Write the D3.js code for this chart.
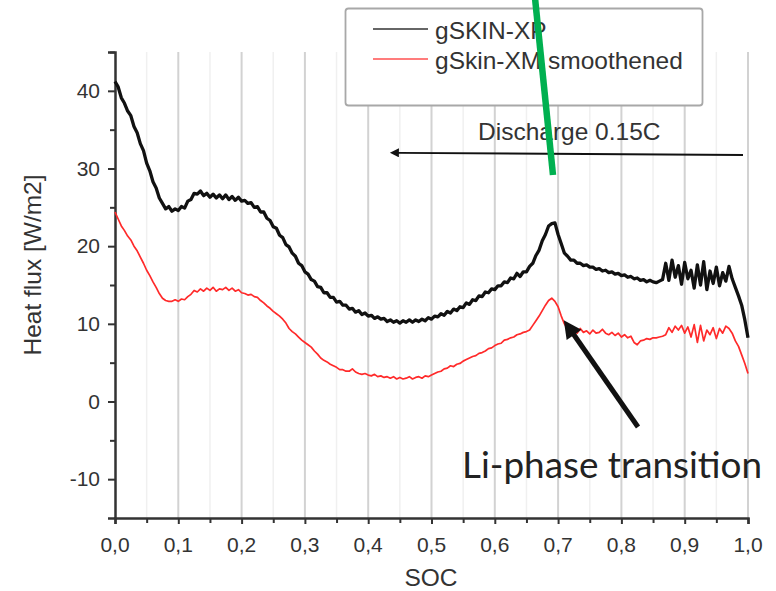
<!DOCTYPE html>
<html><head><meta charset="utf-8">
<script src="https://cdn.jsdelivr.net/npm/d3@7"></script>
<style>html,body{margin:0;padding:0;background:#fff;}svg{display:block;}</style>
</head><body>
<svg id="chart" width="776" height="591"></svg>
<script>
// ---- data ----
const seriesNames = ["gSKIN-XP", "gSkin-XM smoothened"];
const xTicks = [0,0.1,0.2,0.3,0.4,0.5,0.6,0.7,0.8,0.9,1.0];
const xTickLabels = ["0,0","0,1","0,2","0,3","0,4","0,5","0,6","0,7","0,8","0,9","1,0"];
const yTicks = [-10,0,10,20,30,40];
const yTickLabels = ["-10","0","10","20","30","40"];
const socStep = 0.005;
const gskinXP = [41.2,40.5,39.1,38.4,37.4,36.8,35.4,34.6,33.2,32.3,
30.7,29.7,28.3,27.5,26.2,25.5,24.8,25.1,24.5,24.8,
24.6,25.1,24.9,25.8,26.0,26.8,26.7,27.1,26.5,26.8,
26.3,26.7,26.2,26.6,26.1,26.6,26.0,26.4,25.9,26.3,
25.8,25.9,25.5,25.6,25.0,25.1,24.4,24.4,23.6,23.3,
22.5,22.3,21.4,21.1,20.2,19.9,19.1,18.7,17.8,17.5,
16.7,16.4,15.7,15.5,14.8,14.7,14.0,14.0,13.4,13.4,
12.8,12.9,12.4,12.4,11.9,12.0,11.5,11.7,11.2,11.4,
11.0,11.1,10.7,10.9,10.6,10.7,10.3,10.5,10.2,10.4,
10.1,10.4,10.2,10.5,10.2,10.5,10.3,10.6,10.4,10.8,
10.6,11.0,10.9,11.3,11.1,11.6,11.4,11.9,11.7,12.2,
12.1,12.7,12.5,13.1,13.0,13.6,13.5,14.1,14.0,14.5,
14.4,14.9,14.9,15.4,15.3,15.9,15.8,16.5,16.1,16.7,
16.7,17.4,17.8,18.8,19.5,20.7,21.5,22.6,22.9,23.0,
21.5,20.3,19.1,18.7,18.2,18.2,17.8,17.8,17.5,17.6,
17.3,17.3,17.0,17.1,16.8,16.9,16.6,16.7,16.4,16.5,
16.2,16.3,16.0,16.1,15.8,15.9,15.6,15.7,15.4,15.6,
15.4,15.3,15.5,15.7,17.8,15.6,18.2,16.0,17.5,15.1,
17.9,15.8,16.9,14.6,17.6,15.0,18.0,14.4,16.8,15.2,
17.3,14.9,16.6,15.5,17.4,15.8,14.7,13.6,12.4,10.5,
8.2];
const gskinXM = [24.4,23.5,22.6,22.0,21.3,20.8,20.0,19.4,18.6,17.8,
16.9,16.2,15.4,14.7,13.9,13.3,13.0,12.9,12.9,13.1,
12.9,13.2,13.1,13.5,13.8,14.3,14.1,14.5,14.2,14.6,
14.3,14.7,14.2,14.5,14.4,14.7,14.3,14.6,14.2,14.4,
14.0,13.9,13.7,13.8,13.5,13.4,13.0,12.7,12.3,12.0,
11.6,11.3,11.0,10.6,10.1,9.4,9.0,8.7,8.3,7.9,
7.6,7.3,7.0,6.5,6.1,5.6,5.3,5.1,4.8,4.6,
4.4,4.1,4.1,3.9,3.9,4.2,3.8,3.6,3.5,3.6,
3.4,3.3,3.5,3.2,3.3,3.1,3.2,3.0,3.2,2.9,
3.1,2.9,3.0,3.2,2.9,3.1,3.2,3.0,3.3,3.2,
3.4,3.6,3.8,3.9,4.2,4.3,4.6,4.5,4.8,4.9,
5.2,5.4,5.6,5.8,5.9,6.2,6.3,6.5,6.8,6.9,
7.2,7.4,7.5,7.9,8.0,8.2,8.3,8.6,8.7,8.9,
9.0,9.2,9.8,10.4,11.0,11.7,12.4,13.0,13.3,12.9,
12.2,11.0,10.0,9.3,8.7,9.2,8.8,9.4,8.9,9.1,
8.7,9.2,8.8,8.9,9.3,8.8,8.6,8.9,8.5,8.8,
8.3,8.6,8.2,8.4,7.6,7.3,7.8,7.9,8.1,8.0,
8.2,8.2,8.3,8.4,8.6,9.5,8.9,9.7,9.2,9.8,
8.8,9.6,8.3,9.9,7.6,9.8,7.8,9.2,8.6,9.5,
8.1,9.4,8.8,9.7,9.4,8.8,7.8,7.1,6.0,4.9,
3.6];

// ---- chart ----
const svg = d3.select("#chart");
const x = d3.scaleLinear().domain([0, 1]).range([115, 748]);
const y = d3.scaleLinear().domain([-15, 45]).range([518, 52]);
const txt = "#333";
const font = "Liberation Sans, Arial, sans-serif";

// grid
const gMinor = d3.range(1, 20, 2).map(i => i * 0.05);
svg.append("g").selectAll("line").data(gMinor).join("line")
  .attr("x1", d => x(d)).attr("x2", d => x(d)).attr("y1", y(45)).attr("y2", y(-15))
  .attr("stroke", "#f0f0f0").attr("stroke-width", 1.5);
svg.append("g").selectAll("line").data(xTicks.slice(1)).join("line")
  .attr("x1", d => x(d)).attr("x2", d => x(d)).attr("y1", y(45)).attr("y2", y(-15))
  .attr("stroke", "#d2d2d2").attr("stroke-width", 2);

// axes
const xAxis = d3.axisBottom(x).tickValues(xTicks).tickSize(6).tickFormat(() => "");
const xAxisMinor = d3.axisBottom(x).tickValues(gMinor).tickSize(5).tickFormat(() => "");
const yAxis = d3.axisLeft(y).tickValues(yTicks).tickSize(7).tickFormat(() => "");
const yAxisMinor = d3.axisLeft(y).tickValues([-5,5,15,25,35,45]).tickSize(5).tickFormat(() => "");
function styleAxis(g){ g.select(".domain").attr("stroke","#333").attr("stroke-width",2.5);
  g.selectAll(".tick line").attr("stroke","#333").attr("stroke-width",2); }
svg.append("g").attr("transform","translate(0,518)").call(xAxisMinor).call(styleAxis).select(".domain").remove();
svg.append("g").attr("transform","translate(0,518)").call(xAxis).call(styleAxis);
svg.append("g").attr("transform","translate(115,0)").call(yAxisMinor).call(styleAxis).select(".domain").remove();
svg.append("g").attr("transform","translate(115,0)").call(yAxis).call(styleAxis);

// tick labels
svg.append("g").selectAll("text").data(xTicks).join("text")
  .attr("x", d => x(d)).attr("y", 552).attr("text-anchor","middle")
  .attr("font-family", font).attr("font-size", 21).attr("fill", txt)
  .text((d,i) => xTickLabels[i]);
svg.append("g").selectAll("text").data(yTicks).join("text")
  .attr("x", 100).attr("y", d => y(d) + 7).attr("text-anchor","end")
  .attr("font-family", font).attr("font-size", 21).attr("fill", txt)
  .text((d,i) => yTickLabels[i]);

// axis titles
svg.append("text").attr("x", 431).attr("y", 586).attr("text-anchor","middle")
  .attr("font-family", font).attr("font-size", 24.5).attr("fill", txt).text("SOC");
svg.append("text").attr("transform","translate(41,265) rotate(-90)").attr("text-anchor","middle")
  .attr("font-family", font).attr("font-size", 24.5).attr("fill", txt).text("Heat flux [W/m2]");

// series
const soc = gskinXP.map((d, i) => i * socStep);
const line = d3.line().x(d => x(d[0])).y(d => y(d[1]));
svg.append("path").datum(gskinXM.map((v, i) => [soc[i], v]))
  .attr("d", line).attr("fill","none").attr("stroke","#ff2a2a").attr("stroke-width",1.7).attr("stroke-linejoin","round");
svg.append("path").datum(gskinXP.map((v, i) => [soc[i], v]))
  .attr("d", line).attr("fill","none").attr("stroke","#111").attr("stroke-width",3.3).attr("stroke-linejoin","round");

// legend
const lg = svg.append("g");
lg.append("rect").attr("x",345.5).attr("y",8.5).attr("width",357).attr("height",97).attr("rx",3)
  .attr("fill","#fff").attr("stroke","#a8a8a8").attr("stroke-width",1.8);
const legColors = ["#333", "#ff5050"];
seriesNames.forEach((n, i) => {
  const ly = 29 + i * 30;
  lg.append("line").attr("x1",373).attr("x2",428).attr("y1",ly).attr("y2",ly)
    .attr("stroke",legColors[i]).attr("stroke-width",1.5);
  lg.append("text").attr("x",435).attr("y",ly + 10).attr("font-family",font)
    .attr("font-size",24.5).attr("fill",txt).text(n);
});

// annotations
const defs = svg.append("defs");
defs.append("marker").attr("id","hd").attr("viewBox","0 0 10 10").attr("refX",1).attr("refY",5)
  .attr("markerWidth",7).attr("markerHeight",5).attr("orient","auto-start-reverse").attr("markerUnits","strokeWidth")
  .append("path").attr("d","M0,0 L10,5 L0,10 z").attr("fill","#111");
svg.append("line").attr("x1",743).attr("y1",155).attr("x2",398).attr("y2",152.8)
  .attr("stroke","#111").attr("stroke-width",1.8).attr("marker-end","url(#hd)");
svg.append("text").attr("x",478).attr("y",140).attr("font-family",font).attr("font-size",24.5)
  .attr("fill",txt).text("Discharge 0.15C");

defs.append("marker").attr("id","hd2").attr("viewBox","0 0 10 10").attr("refX",2).attr("refY",5)
  .attr("markerWidth",4.4).attr("markerHeight",3.6).attr("orient","auto").attr("markerUnits","strokeWidth")
  .append("path").attr("d","M0,0 L10,5 L0,10 z").attr("fill","#111");
svg.append("line").attr("x1",638).attr("y1",427).attr("x2",572).attr("y2",332)
  .attr("stroke","#111").attr("stroke-width",5).attr("marker-end","url(#hd2)");
svg.append("text").attr("x",462).attr("y",478).attr("font-family","Lato, 'Open Sans', sans-serif")
  .attr("font-size",36).attr("fill","#222").attr("textLength",300).attr("lengthAdjust","spacingAndGlyphs")
  .text("Li-phase transition");

svg.append("line").attr("x1",535).attr("y1",-2).attr("x2",553).attr("y2",175)
  .attr("stroke","#00b050").attr("stroke-width",6.5);
</script>
</body></html>
